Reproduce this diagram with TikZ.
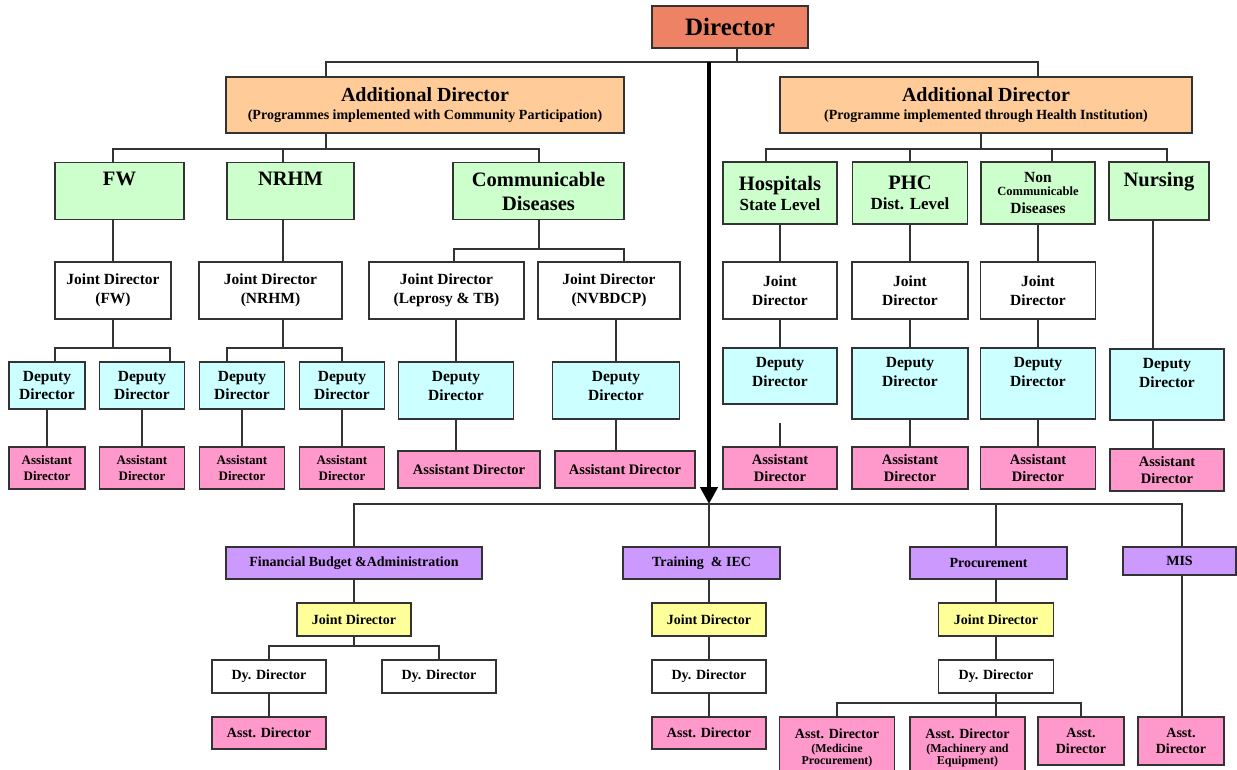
\documentclass[tikz,border=0pt]{standalone}
\usepackage{fontspec}
\setmainfont{Liberation Serif}
\usetikzlibrary{arrows.meta}
\definecolor{edge}{RGB}{51,51,51}
\definecolor{dirfill}{RGB}{238,130,100}
\definecolor{addlfill}{RGB}{255,204,153}
\definecolor{progfill}{RGB}{204,255,204}
\definecolor{depfill}{RGB}{204,255,255}
\definecolor{asstfill}{RGB}{255,153,204}
\definecolor{wingfill}{RGB}{204,153,255}
\definecolor{jdfill}{RGB}{255,255,153}
\newcommand{\fsz}[2]{\fontsize{#1}{#2}\selectfont}% #1=size, #2=baselineskip

\begin{document}
\begin{tikzpicture}[x=1pt, y=-1pt,
  box/.style={draw=edge, line width=1.5pt, inner sep=0pt, align=center, text=black},
  wh/.style 2 args={minimum width=#1, minimum height=#2},
  dirbox/.style={box, fill=dirfill, font=\bfseries\fsz{25}{30}},
  addlbox/.style={box, fill=addlfill, font=\bfseries\fsz{20}{24}},
  progbox/.style={box, fill=progfill, font=\bfseries\fsz{20.5}{24}},
  jointbox/.style={box, fill=white, font=\bfseries\fsz{15.5}{18.5}},
  deputybox/.style={box, fill=depfill, font=\bfseries\fsz{15.5}{18.5}},
  asstbox/.style={box, fill=asstfill, font=\bfseries\fsz{14.5}{17}},
  wingbox/.style={box, fill=wingfill, font=\bfseries\fsz{14}{17}},
  yjointbox/.style={box, fill=jdfill, font=\bfseries\fsz{14}{17}},
  dybox/.style={box, fill=white, font=\bfseries\fsz{14}{17}},
  conn/.style={draw=edge, line width=1.4pt},
  bigarrow/.style={draw=black, line width=4.5pt, -{Triangle[width=17pt,length=17pt]}}]
  \useasboundingbox (0,0) rectangle (1237,769);
  \clip (0,0) rectangle (1237,769);

  % top level
  \node[dirbox, wh={156}{42}] (dir) at (730,27) {Director};
  \node[addlbox, wh={398}{56}] (adL) at (425,105) {Additional Director\\[-6pt]\fsz{14}{16}(Programmes implemented with Community Participation)};
  \node[addlbox, wh={412}{56}] (adR) at (986,105) {Additional Director\\[-6pt]\fsz{14}{16}(Programme implemented through Health Institution)};

  % programme heads
  \node[progbox, wh={129}{57}] (fw)   at (119.5,191) {FW\\~};
  \node[progbox, wh={127}{57}] (nrhm) at (290.5,191) {NRHM\\~};
  \node[progbox, wh={171}{57}] (comm) at (538.5,191) {Communicable\\Diseases};
  \node[progbox, wh={114}{62}] (hosp) at (780,193) {Hospitals\\[-4pt]\fsz{17}{20}State Level};
  \node[progbox, wh={115}{62}] (phc)  at (910,193) {PHC\\[-4pt]\fsz{17}{20}Dist. Level};
  \node[progbox, wh={114}{62}, font=\bfseries\fsz{15.5}{18.5}] (ncd) at (1038,193) {Non\\[-5.5pt]\fsz{12.5}{15}Communicable\\[-0.5pt]Diseases};
  \node[progbox, wh={100}{58}] (nurs) at (1159,191) {Nursing\\~};

  % joint directors
  \node[jointbox, wh={116}{57}] (jdfw)   at (113,290.5)   {Joint Director\\(FW)};
  \node[jointbox, wh={143}{57}] (jdnrhm) at (270.5,290.5) {Joint Director\\(NRHM)};
  \node[jointbox, wh={155}{57}] (jdlep)  at (446.5,290.5) {Joint Director\\(Leprosy \& TB)};
  \node[jointbox, wh={142}{57}] (jdnvb)  at (609,290.5)   {Joint Director\\(NVBDCP)};
  \node[jointbox, wh={114}{57}] (jdhosp) at (780,290.5)   {Joint\\Director};
  \node[jointbox, wh={116}{57}] (jdphc)  at (910,290.5)   {Joint\\Director};
  \node[jointbox, wh={115}{57}] (jdncd)  at (1038,290.5)  {Joint\\Director};

  % deputy directors
  \node[deputybox, wh={76}{47}]  (dd1) at (47,385.5)  {Deputy\\Director};
  \node[deputybox, wh={85}{47}]  (dd2) at (142,385.5) {Deputy\\Director};
  \node[deputybox, wh={85}{47}]  (dd3) at (242,385.5) {Deputy\\Director};
  \node[deputybox, wh={85}{47}]  (dd4) at (342,385.5) {Deputy\\Director};
  \node[deputybox, wh={115}{57}] (dd5) at (456,390.5) {Deputy\\Director\\[-9.5pt]\mbox{}};
  \node[deputybox, wh={127}{57}] (dd6) at (616,390.5) {Deputy\\Director\\[-9.5pt]\mbox{}};
  \node[deputybox, wh={114}{56}] (ddhosp) at (780,376)    {Deputy\\Director\\[-10.5pt]\mbox{}};
  \node[deputybox, wh={116}{71}] (ddphc)  at (910,383.5)  {Deputy\\Director\\[4.5pt]\mbox{}};
  \node[deputybox, wh={115}{71}] (ddncd)  at (1038,383.5) {Deputy\\Director\\[4.5pt]\mbox{}};
  \node[deputybox, wh={114}{71}] (ddnurs) at (1167,384.5) {Deputy\\Director\\[4.5pt]\mbox{}};

  % assistant directors
  \node[asstbox, wh={76}{42}, font=\bfseries\fsz{13}{15.5}] (as1) at (47,468)  {Assistant\\Director};
  \node[asstbox, wh={85}{42}, font=\bfseries\fsz{13}{15.5}] (as2) at (142,468) {Assistant\\Director};
  \node[asstbox, wh={85}{42}, font=\bfseries\fsz{13}{15.5}] (as3) at (242,468) {Assistant\\Director};
  \node[asstbox, wh={85}{42}, font=\bfseries\fsz{13}{15.5}] (as4) at (342,468) {Assistant\\Director};
  \node[asstbox, wh={142}{37}] (as5) at (469,469.5) {Assistant Director};
  \node[asstbox, wh={140}{37}] (as6) at (625,469.5) {Assistant Director};
  \node[asstbox, wh={114}{42}] (ashosp) at (780,468)  {Assistant\\Director};
  \node[asstbox, wh={116}{42}] (asphc)  at (910,468)  {Assistant\\Director};
  \node[asstbox, wh={115}{42}] (asncd)  at (1038,468) {Assistant\\Director};
  \node[asstbox, wh={114}{42}] (asnurs) at (1167,470) {Assistant\\Director};

  % wings under the director
  \node[wingbox, wh={256}{32}] (fba)   at (354,563)    {Financial Budget \&Administration};
  \node[wingbox, wh={157}{32}] (train) at (701.5,563)  {Training~~\& IEC};
  \node[wingbox, wh={157}{32}] (proc)  at (988.5,563)  {Procurement};
  \node[wingbox, wh={113}{28}] (mis)   at (1179.5,561) {MIS};

  \node[yjointbox, wh={114}{33}] (jdfba)   at (354,619.5) {Joint Director};
  \node[yjointbox, wh={114}{33}] (jdtrain) at (709,619.5) {Joint Director};
  \node[yjointbox, wh={115}{33}] (jdproc)  at (996,619.5) {Joint Director};

  \node[dybox, wh={114}{33}] (dyfba1)  at (269,676.5) {Dy. Director};
  \node[dybox, wh={114}{33}] (dyfba2)  at (439,676.5) {Dy. Director};
  \node[dybox, wh={114}{33}] (dytrain) at (709,676.5) {Dy. Director};
  \node[dybox, wh={115}{33}] (dyproc)  at (996,676.5) {Dy. Director};

  \node[asstbox, wh={114}{32}, font=\bfseries\fsz{14}{17}] (asfba)   at (269,733) {Asst. Director};
  \node[asstbox, wh={114}{32}, font=\bfseries\fsz{14}{17}] (astrain) at (709,733) {Asst. Director};
  \node[asstbox, wh={115}{61}, font=\bfseries\fsz{14}{16.5}] (asp1) at (837,747.5) {Asst. Director\\[-2.5pt]\fsz{12}{14}(Medicine\\[-4.5pt]\fsz{12}{14}Procurement)};
  \node[asstbox, wh={115}{61}, font=\bfseries\fsz{14}{16.5}] (asp2) at (967.5,747.5) {Asst. Director\\[-2.5pt]\fsz{12}{14}(Machinery and\\[-4.5pt]\fsz{12}{14}Equipment)};
  \node[asstbox, wh={86}{48}, font=\bfseries\fsz{14}{16.5}] (asp3)  at (1081,741) {Asst.\\Director};
  \node[asstbox, wh={86}{48}, font=\bfseries\fsz{14}{16.5}] (asmis) at (1181,741) {Asst.\\Director};

  % bus points
  \coordinate (dirx) at (737,62);
  \coordinate (busL) at (326,62);
  \coordinate (busR) at (1038,62);
  \coordinate (arrtop) at (709,62);
  \coordinate (lbL) at (113,149);
  \coordinate (lbR) at (539,149);
  \coordinate (nrx) at (283,149);
  \coordinate (adrx) at (981,149);
  \coordinate (rbL) at (766,149);
  \coordinate (rbR) at (1167,149);
  \coordinate (ncdx) at (1052,149);
  \coordinate (nursx) at (1153,220);
  \coordinate (fwbL) at (55,348);
  \coordinate (fwbR) at (170,348);
  \coordinate (nrbL) at (227,348);
  \coordinate (nrbR) at (342,348);
  \coordinate (cbL) at (454,249);
  \coordinate (cbR) at (624,249);
  \coordinate (hospgap) at (780,423);
  \coordinate (bbL) at (354,504);
  \coordinate (bbR) at (1182,504);
  \coordinate (bbM) at (709,504);
  \coordinate (procx) at (996,504);
  \coordinate (fbL) at (269,646);
  \coordinate (fbR) at (439,646);
  \coordinate (pbR) at (1081,703);

  % director and additional directors
  \draw[conn] (dir.south -| dirx) -- (dirx);
  \draw[conn] (adL.north -| busL) -- (busL) -- (busR) -- (adR.north -| busR);
  \draw[bigarrow] (arrtop) -- (bbM);

  % left side
  \draw[conn] (adL.south -| busL) -- (busL |- lbL);
  \draw[conn] (fw.north -| lbL) -- (lbL) -- (lbR) -- (comm.north -| lbR);
  \draw[conn] (nrx) -- (nrhm.north -| nrx);
  \draw[conn] (fw.south -| lbL) -- (jdfw.north -| lbL);
  \draw[conn] (nrhm.south -| nrx) -- (jdnrhm.north -| nrx);
  \draw[conn] (comm.south -| lbR) -- (lbR |- cbL);
  \draw[conn] (jdlep.north -| cbL) -- (cbL) -- (cbR) -- (jdnvb.north -| cbR);
  \draw[conn] (jdfw.south -| lbL) -- (lbL |- fwbL);
  \draw[conn] (dd1.north -| fwbL) -- (fwbL) -- (fwbR) -- (dd2.north -| fwbR);
  \draw[conn] (jdnrhm.south -| nrx) -- (nrx |- nrbL);
  \draw[conn] (dd3.north -| nrbL) -- (nrbL) -- (nrbR) -- (dd4.north -| nrbR);
  \draw[conn] (dd5.north) -- (dd5.north |- jdlep.south);
  \draw[conn] (dd6.north) -- (dd6.north |- jdnvb.south);
  \foreach \n/\m in {dd1/as1, dd2/as2, dd3/as3, dd4/as4, dd5/as5, dd6/as6}
    \draw[conn] (\n.south) -- (\n.south |- \m.north);

  % right side
  \draw[conn] (adR.south -| adrx) -- (adrx);
  \draw[conn] (hosp.north -| rbL) -- (rbL) -- (rbR) -- (nurs.north -| rbR);
  \draw[conn] (phc.north) -- (phc.north |- rbL);
  \draw[conn] (ncdx) -- (ncd.north -| ncdx);
  \foreach \a/\b in {hosp/jdhosp, jdhosp/ddhosp, phc/jdphc, jdphc/ddphc, ddphc/asphc,
                     ncd/jdncd, jdncd/ddncd, ddncd/asncd}
    \draw[conn] (\a.south) -- (\a.south |- \b.north);
  \draw[conn] (hospgap) -- (ashosp.north);
  \draw[conn] (nursx) -- (ddnurs.north -| nursx);
  \draw[conn] (ddnurs.south -| nursx) -- (asnurs.north -| nursx);

  % wings
  \draw[conn] (fba.north -| bbL) -- (bbL) -- (bbR) -- (mis.north -| bbR);
  \draw[conn] (bbM) -- (train.north -| bbM);
  \draw[conn] (procx) -- (proc.north -| procx);
  \draw[conn] (fba.south) -- (jdfba.north);
  \draw[conn] (jdfba.south) -- (jdfba.south |- fbL);
  \draw[conn] (dyfba1.north) |- (fbR) -- (dyfba2.north);
  \draw[conn] (dyfba1.south) -- (asfba.north);
  \draw[conn] (jdtrain.north) -- (jdtrain.north |- train.south);
  \draw[conn] (jdtrain.south) -- (dytrain.north);
  \draw[conn] (dytrain.south) -- (astrain.north);
  \draw[conn] (jdproc.north) -- (jdproc.north |- proc.south);
  \draw[conn] (jdproc.south) -- (dyproc.north);
  \draw[conn] (dyproc.south) -- (asp2.north -| dyproc.south);
  \draw[conn] (asp1.north) |- (pbR) -- (asp3.north);
  \draw[conn] (mis.south -| bbR) -- (asmis.north -| bbR);
\end{tikzpicture}
\end{document}
